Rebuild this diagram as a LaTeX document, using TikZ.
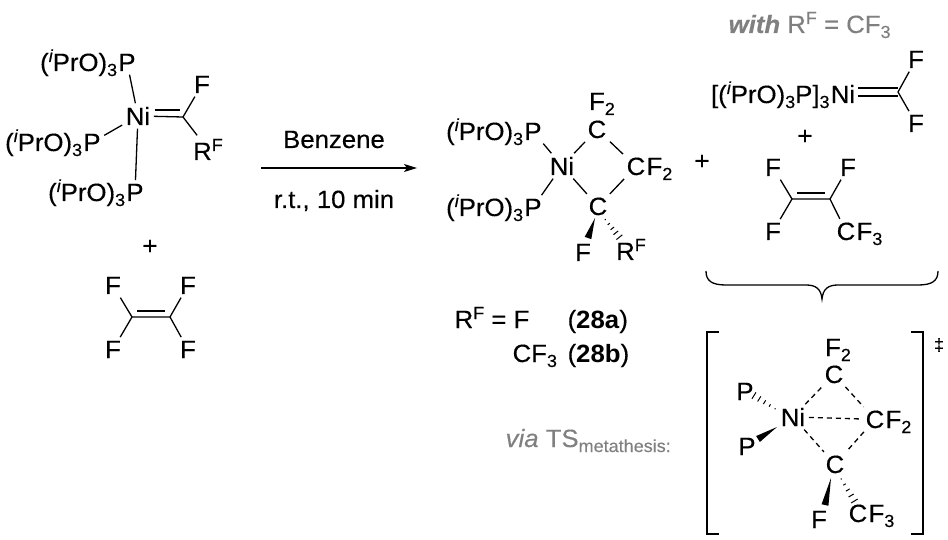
\documentclass[tikz,border=0pt]{standalone}
\usepackage{fontspec}
\usepackage{tikz}
\usetikzlibrary{calc,arrows.meta}
\setmainfont[FakeStretch=1.03,FakeBold=0.3,BoldFeatures={FakeBold=0}]{Liberation Sans}
\definecolor{greytext}{HTML}{808080}
\def\smallsize{\fontsize{17.5}{18}\selectfont}
\newcommand{\subtxt}[1]{\raisebox{-5pt}{\smallsize #1}}
\newcommand{\suptxt}[1]{\raisebox{9pt}{\smallsize #1}}
\newcommand{\iproxy}{(\suptxt{\itshape i}PrO)\subtxt{3}}
\newcommand{\wedgebond}[2]{\fill (#1) -- ($(#2)!3.5pt!90:(#1)$) -- ($(#2)!3.5pt!-90:(#1)$) -- cycle;}
\newcommand{\hashbond}[2]{%
    \foreach \t/\w in {0.08/0.6,0.3/1.4,0.52/2.2,0.74/3,0.96/3.8} {
        \coordinate (hash) at ($(#1)!\t!(#2)$);
        \draw[line width=1pt] ($(hash)!\w pt!90:(#2)$) -- ($(hash)!\w pt!-90:(#2)$);
    }}

\begin{document}
\begin{tikzpicture}[x=1pt,y=-1pt,line width=1.3pt]
    \tikzstyle{every node}=[font=\fontsize{25}{27}\selectfont]
    \tikzstyle{atom}=[anchor=base,inner sep=3pt]
    \tikzstyle{ligand}=[anchor=base east,inner sep=0pt,xshift=3pt]
    \tikzstyle{tail}=[anchor=base west,inner sep=0pt,xshift=-3pt]
    \tikzstyle{annot}=[anchor=base west,inner sep=0pt]
    \tikzstyle{grey annot}=[annot,text=greytext]
    \tikzstyle{plus}=[anchor=center,inner sep=0pt]
    \tikzstyle{dash bond}=[dash pattern=on 5pt off 4pt]

    \useasboundingbox (0,0) rectangle (948,540);

    % Draw the carbene complex on the left
    \node[atom] (Ni-a) at (138,125) {Ni};
    \node[atom] (P-a) at (127,71) {P};
    \node[atom] (P-b) at (92,151) {P};
    \node[atom] (P-c) at (135,201) {P};
    \foreach \name in {a,b,c}
        \node[ligand] (L-\name) at (P-\name.base west) {\iproxy};
    \node[atom] (F-a) at (202,93) {F};
    \node[atom] (Rf-a) at (208,160) {R\suptxt{F}};
    \coordinate (C-a) at (183,117);
    \coordinate (C-a2) at (180,110);
    \coordinate (Ni-a2) at (155,110);
    \foreach \name in {a,b,c}
        \draw (P-\name) -- (Ni-a);
    \draw (Ni-a) -- (C-a) -- (F-a);
    \draw (C-a) -- (Rf-a);
    \draw (Ni-a2) -- (C-a2);

    % Tetrafluoroethylene below it
    \node[plus] (plus-a) at (150,247) {+};
    \node[atom] (F-1) at (113,294) {F};
    \node[atom] (F-2) at (188,294) {F};
    \node[atom] (F-3) at (113,358) {F};
    \node[atom] (F-4) at (188,358) {F};
    \coordinate (C-1) at (132,317);
    \coordinate (C-2) at (170,317);
    \coordinate (C-1b) at (137,311);
    \coordinate (C-2b) at (165,311);
    \draw (F-1) -- (C-1) -- (C-2) -- (F-2);
    \draw (F-3) -- (C-1);
    \draw (F-4) -- (C-2);
    \draw (C-1b) -- (C-2b);

    % The reaction arrow
    \coordinate (arrow-a) at (261,168);
    \coordinate (arrow-b) at (417,168);
    \draw[-{Stealth[length=13pt,width=8pt,inset=3pt]}] (arrow-a) -- (arrow-b);
    \node[anchor=base,inner sep=0pt] (solvent) at (334,148) {Benzene};
    \node[anchor=base,inner sep=0pt] (cond) at (334,208) {r.t., 10 min};

    % The nickelacycle
    \node[atom] (Ni-b) at (562,175) {Ni};
    \node[atom] (P-d) at (533,140) {P};
    \node[atom] (P-e) at (533,216) {P};
    \foreach \name in {d,e}
        \node[ligand] (L-\name) at (P-\name.base west) {\iproxy};
    \node[atom] (C-t) at (597,138) {C};
    \node[atom] (F2-t) at (602,110) {F\subtxt{2}};
    \node[atom] (C-r) at (636,175) {C};
    \node[tail] (F2-r) at (C-r.base east) {F\subtxt{2}};
    \node[atom] (C-b) at (598,215) {C};
    \node[atom] (F-b) at (583,261) {F};
    \node[atom] (Rf-b) at (631,260) {R\suptxt{F}};
    \foreach \name in {d,e}
        \draw (P-\name) -- (Ni-b);
    \draw (Ni-b) -- (C-t) -- (C-r) -- (C-b) -- (Ni-b);
    \coordinate (w-a) at (595,218);
    \coordinate (w-b) at (588,238);
    \coordinate (h-a) at (604,218);
    \coordinate (h-b) at (620,238);
    \wedgebond{w-a}{w-b}
    \hashbond{h-a}{h-b}

    \node[annot] (rf-f) at (454,328) {R\suptxt{F} = F};
    \node[annot] (n-a) at (567,328) {(\textbf{28a})};
    \node[annot] (rf-c) at (512,362) {CF\subtxt{3}};
    \node[annot] (n-b) at (567,362) {(\textbf{28b})};

    % The metathesis products
    \node[plus] (plus-b) at (702,162) {+};
    \node[grey annot] (with) at (728,33) {\textbf{\textit{with}} R\suptxt{F} = CF\subtxt{3}};
    \node[atom] (Ni-c) at (843,103) {Ni};
    \node[ligand] (L-c) at (Ni-c.base west) {[\iproxy P]\subtxt{3}};
    \node[atom] (F-c) at (916,68) {F};
    \node[atom] (F-d) at (916,132) {F};
    \coordinate (C-c) at (898,92);
    \coordinate (C-c1) at (898,88);
    \coordinate (C-c2) at (898,96);
    \coordinate (Ni-c1) at (858,88);
    \coordinate (Ni-c2) at (858,96);
    \draw (Ni-c1) -- (C-c1);
    \draw (Ni-c2) -- (C-c2);
    \draw (F-c) -- (C-c) -- (F-d);

    \node[plus] (plus-c) at (805,137) {+};
    \node[atom] (F-5) at (773,176) {F};
    \node[atom] (F-6) at (848,176) {F};
    \node[atom] (F-7) at (773,240) {F};
    \node[atom] (C-f) at (846,240) {C};
    \node[tail] (F3-f) at (C-f.base east) {F\subtxt{3}};
    \coordinate (C-5) at (792,199);
    \coordinate (C-6) at (830,199);
    \coordinate (C-5b) at (797,193);
    \coordinate (C-6b) at (825,193);
    \draw (F-5) -- (C-5) -- (C-6) -- (F-6);
    \draw (F-7) -- (C-5);
    \draw (C-f) -- (C-6);
    \draw (C-5b) -- (C-6b);

    % The brace
    \draw (706,271) .. controls (706,281) and (712,285) .. (726,285)
        -- (806,285) .. controls (816,285) and (821,289) .. (822,299)
        .. controls (823,289) and (828,285) .. (838,285)
        -- (918,285) .. controls (932,285) and (938,281) .. (938,271);

    % The transition state and its brackets
    \node[grey annot] (via) at (505,447) {\textit{via} TS\subtxt{metathesis:}};
    \draw (719,332) -- (707,332) -- (707,534) -- (719,534);
    \draw (911,332) -- (923,332) -- (923,534) -- (911,534);
    \node[anchor=center,inner sep=0pt,font=\smallsize] (ddag) at (939,345) {‡};

    \node[atom] (Ni-t) at (793,426) {Ni};
    \node[atom] (P-t1) at (745,400) {P};
    \node[atom] (P-t2) at (747,455) {P};
    \node[atom] (F2-u) at (838,356) {F\subtxt{2}};
    \node[atom] (C-u) at (834,383) {C};
    \node[atom] (C-v) at (875,428) {C};
    \node[tail] (F2-v) at (C-v.base east) {F\subtxt{2}};
    \node[atom] (C-w) at (835,473) {C};
    \node[atom] (F-w) at (819,528) {F};
    \node[atom] (C-x) at (858,522) {C};
    \node[tail] (F3-x) at (C-x.base east) {F\subtxt{3}};
    \draw[dash bond] (Ni-t) -- (C-u);
    \draw[dash bond] (C-u) -- (C-v);
    \draw[dash bond] (Ni-t) -- (C-v);
    \draw[dash bond] (Ni-t) -- (C-w);
    \draw[dash bond] (C-v) -- (C-w);
    \coordinate (w-c) at (777,427);
    \coordinate (w-d) at (758,439);
    \coordinate (h-c) at (777,410);
    \coordinate (h-d) at (753,395);
    \coordinate (w-e) at (831,478);
    \coordinate (w-f) at (825,505);
    \coordinate (h-e) at (840,477);
    \coordinate (h-f) at (855,502);
    \wedgebond{w-c}{w-d}
    \hashbond{h-c}{h-d}
    \wedgebond{w-e}{w-f}
    \hashbond{h-e}{h-f}
\end{tikzpicture}
\end{document}
